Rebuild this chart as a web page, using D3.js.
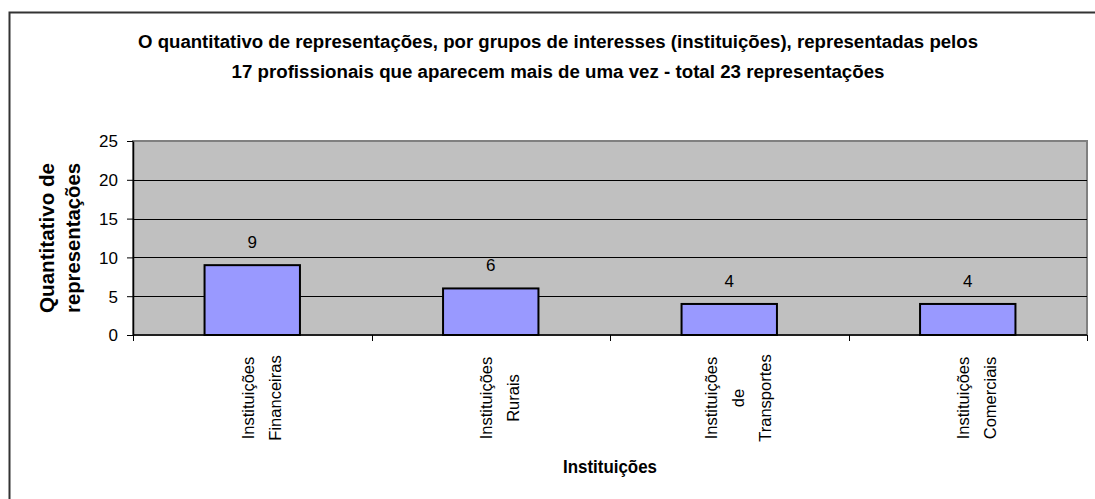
<!DOCTYPE html>
<html>
<head>
<meta charset="utf-8">
<script src="https://cdn.jsdelivr.net/npm/d3@7"></script>
<style>
  body { margin: 0; background: #fff; }
  svg text { font-family: "Liberation Sans", Arial, sans-serif; fill: #000; }
</style>
</head>
<body>
<div id="chart"></div>
<script>
// chart data
var categories = ["Instituições Financeiras", "Instituições Rurais", "Instituições de Transportes", "Instituições Comerciais"];
var categoryLines = [["Instituições", "Financeiras"], ["Instituições", "Rurais"], ["Instituições", "de", "Transportes"], ["Instituições", "Comerciais"]];
var values = [9, 6, 4, 4];
var yTicks = [0, 5, 10, 15, 20, 25];
var titleLines = [
  "O quantitativo de representações, por grupos de interesses (instituições), representadas pelos",
  "17  profissionais que aparecem mais de uma vez - total 23 representações"
];
var yTitleLines = ["Quantitativo de", "representações"];
var xTitle = "Instituições";

var width = 1095, height = 499;
var plotLeft = 133, plotRight = 1087, plotTop = 141, plotBottom = 335;

var svg = d3.select("#chart")
  .append("svg")
  .attr("width", width)
  .attr("height", height);

// outer chart frame (runs off the picture on right and bottom)
svg.append("rect")
  .attr("x", 9.5)
  .attr("y", 12.5)
  .attr("width", 1120)
  .attr("height", 520)
  .style("fill", "#fff")
  .style("stroke", "#333")
  .style("stroke-width", "2px");

// title
var titleWidths = [840, 653];
titleLines.forEach(function(t, i) {
  svg.append("text")
    .attr("x", 558)
    .attr("y", 48 + i * 30)
    .attr("text-anchor", "middle")
    .attr("textLength", titleWidths[i])
    .attr("lengthAdjust", "spacingAndGlyphs")
    .style("font-size", "18px")
    .style("font-weight", "bold")
    .text(t);
});

var x = d3.scaleBand()
  .domain(categories)
  .range([plotLeft, plotRight])
  .paddingInner(0)
  .paddingOuter(0);

var y = d3.scaleLinear()
  .domain([0, 25])
  .range([plotBottom, plotTop]);

// plot background
svg.append("rect")
  .attr("x", plotLeft)
  .attr("y", plotTop)
  .attr("width", plotRight - plotLeft)
  .attr("height", plotBottom - plotTop)
  .style("fill", "#c0c0c0")
  .style("stroke", "#808080")
  .style("stroke-width", "2px");

// gridlines
svg.selectAll(".grid")
  .data(yTicks.filter(function(d) { return d > 0 && d < 25; }))
  .enter()
  .append("line")
  .attr("x1", plotLeft)
  .attr("x2", plotRight)
  .attr("y1", function(d) { return Math.round(y(d)) + 0.5; })
  .attr("y2", function(d) { return Math.round(y(d)) + 0.5; })
  .style("stroke", "#000")
  .style("stroke-width", "1px");

// y axis
var yAxis = d3.axisLeft(y)
  .tickValues(yTicks)
  .tickSizeInner(6)
  .tickSizeOuter(0)
  .tickPadding(9);

var gy = svg.append("g")
  .attr("transform", "translate(" + plotLeft + ",0)")
  .call(yAxis);
gy.select("path").style("stroke", "#000").style("stroke-width", "1.5px");
gy.selectAll(".tick line").style("stroke", "#000");
gy.selectAll(".tick text")
  .style("font-size", "17px")
  .style("font-family", "'Liberation Sans', Arial, sans-serif")
  .attr("dy", "0.35em");

// x axis: ticks at category boundaries
var gx = svg.append("g")
  .attr("transform", "translate(0," + plotBottom + ")");
gx.append("line")
  .attr("x1", plotLeft)
  .attr("x2", plotRight)
  .style("stroke", "#000")
  .style("stroke-width", "1.5px");
var bounds = categories.map(function(c) { return x(c); }).concat([x(categories[categories.length - 1]) + x.bandwidth()]);
gx.selectAll(".xtick")
  .data(bounds)
  .enter()
  .append("line")
  .attr("x1", function(d) { return Math.round(d) + 0.5; })
  .attr("x2", function(d) { return Math.round(d) + 0.5; })
  .attr("y1", 0)
  .attr("y2", 6)
  .style("stroke", "#000");

// bars
var barW = x.bandwidth() * 0.4;
svg.selectAll(".bar")
  .data(values)
  .enter()
  .append("rect")
  .attr("x", function(d, i) { return x(categories[i]) + (x.bandwidth() - barW) / 2; })
  .attr("y", function(d) { return y(d); })
  .attr("width", barW)
  .attr("height", function(d) { return y(0) - y(d); })
  .style("fill", "#9999ff")
  .style("stroke", "#000")
  .style("stroke-width", "2px");

// value labels
svg.selectAll(".val")
  .data(values)
  .enter()
  .append("text")
  .attr("x", function(d, i) { return x(categories[i]) + x.bandwidth() / 2; })
  .attr("y", function(d) { return y(d) - 17; })
  .attr("text-anchor", "middle")
  .style("font-size", "17px")
  .text(function(d) { return d; });

// category labels, rotated, wrapped
var lineGap = 27;
categoryLines.forEach(function(lines, i) {
  var cx = x(categories[i]) + x.bandwidth() / 2 + 9;
  var g = svg.append("g")
    .attr("transform", "translate(" + cx + ",398) rotate(-90)");
  lines.forEach(function(l, j) {
    var off = (j - (lines.length - 1) / 2) * lineGap;
    g.append("text")
      .attr("x", 0)
      .attr("y", off)
      .attr("dy", "0.35em")
      .attr("text-anchor", "middle")
      .style("font-size", "16.5px")
      .text(l);
  });
});

// y axis title
var gyt = svg.append("g")
  .attr("transform", "translate(60," + ((plotTop + plotBottom) / 2) + ") rotate(-90)");
yTitleLines.forEach(function(l, j) {
  gyt.append("text")
    .attr("x", 0)
    .attr("y", (j - 0.5) * 26)
    .attr("dy", "0.35em")
    .attr("text-anchor", "middle")
    .attr("textLength", 150)
    .attr("lengthAdjust", "spacingAndGlyphs")
    .style("font-size", "20px")
    .style("font-weight", "bold")
    .text(l);
});

// x axis title
svg.append("text")
  .attr("x", (plotLeft + plotRight) / 2)
  .attr("y", 473)
  .attr("text-anchor", "middle")
  .attr("textLength", 94)
  .attr("lengthAdjust", "spacingAndGlyphs")
  .style("font-size", "18px")
  .style("font-weight", "bold")
  .text(xTitle);
</script>
</body>
</html>
